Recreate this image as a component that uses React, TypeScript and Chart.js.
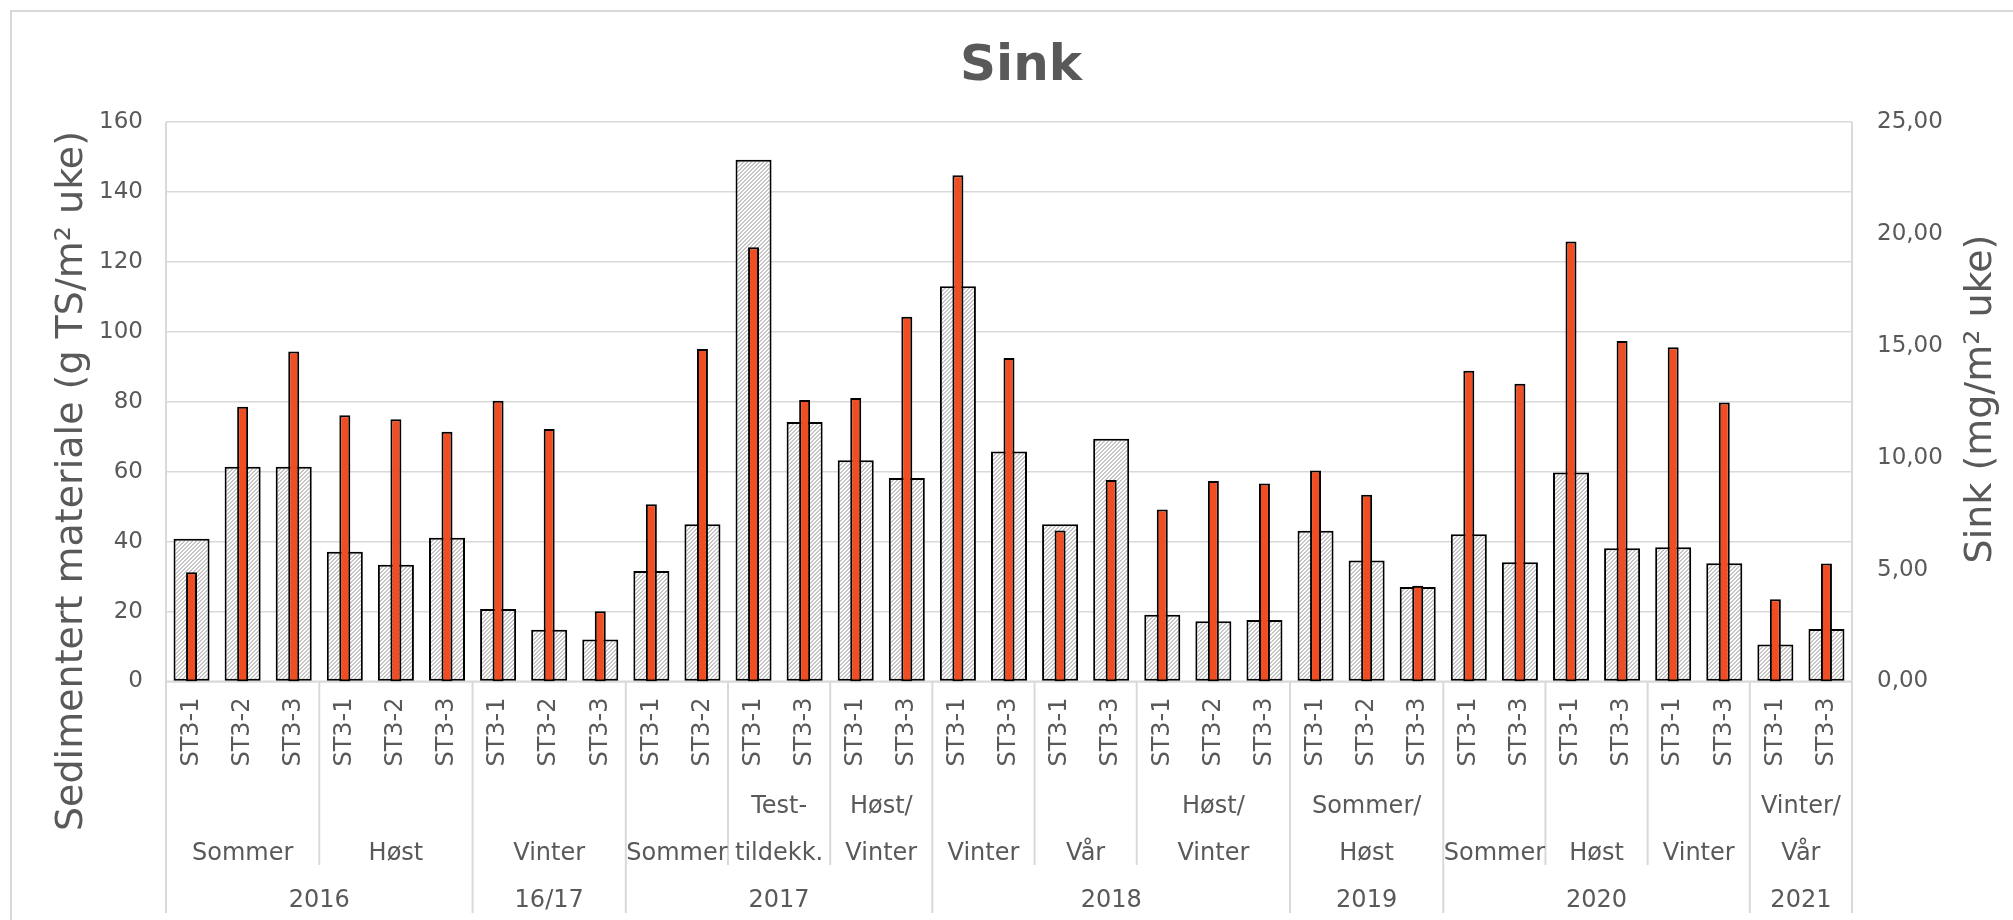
import { useEffect, useRef } from 'react';
import { Chart, registerables } from 'chart.js';

Chart.register(...registerables);

// Sampling stations, one bar pair per station and campaign
const stations = [
  'ST3-1', 'ST3-2', 'ST3-3',
  'ST3-1', 'ST3-2', 'ST3-3',
  'ST3-1', 'ST3-2', 'ST3-3',
  'ST3-1', 'ST3-2',
  'ST3-1', 'ST3-3',
  'ST3-1', 'ST3-3',
  'ST3-1', 'ST3-3',
  'ST3-1', 'ST3-3',
  'ST3-1', 'ST3-2', 'ST3-3',
  'ST3-1', 'ST3-2', 'ST3-3',
  'ST3-1', 'ST3-3',
  'ST3-1', 'ST3-3',
  'ST3-1', 'ST3-3',
  'ST3-1', 'ST3-3',
];

// Season row (two-line labels split on \n) and how many stations each covers
const seasons = [
  'Sommer', 'Høst', 'Vinter', 'Sommer', 'Test-\ntildekk.', 'Høst/\nVinter',
  'Vinter', 'Vår', 'Høst/\nVinter', 'Sommer/\nHøst', 'Sommer', 'Høst', 'Vinter', 'Vinter/\nVår',
];
const seasonSpans = [3, 3, 3, 2, 2, 2, 2, 2, 3, 3, 2, 2, 2, 2];

// Year row
const years = ['2016', '16/17', '2017', '2018', '2019', '2020', '2021'];
const yearSpans = [6, 3, 6, 7, 3, 6, 2];

// Sedimentert materiale (g TS/m² uke), left axis
const sediment = [
  40.8, 61.4, 61.4,
  37.1, 33.4, 41.1,
  20.7, 14.8, 12.0,
  31.6, 45.0,
  149.2, 74.2,
  63.3, 58.2,
  113.0, 65.8,
  45.0, 69.4,
  19.1, 17.2, 17.6,
  43.1, 34.6, 27.0,
  42.1, 34.1,
  59.8, 38.1,
  38.4, 33.8,
  10.6, 15.0,
];

// Sink (mg/m² uke), right axis
const zinc = [
  4.88, 12.28, 14.74,
  11.90, 11.72, 11.16,
  12.54, 11.28, 3.14,
  7.92, 14.86,
  19.40, 12.58,
  12.67, 16.30,
  22.62, 14.45,
  6.75, 9.00,
  7.69, 8.96, 8.85,
  9.43, 8.34, 4.28,
  13.89, 13.30,
  19.66, 15.22,
  14.93, 12.47,
  3.68, 5.27,
];

const leftTicks = { min: 0, max: 160, step: 20 };
const rightTicks = { min: 0, max: 25, step: 5 };

const FONT = '"DejaVu Sans", Verdana, sans-serif';
const TEXT = '#595959';
const LINE = '#d9d9d9';
const ORANGE = '#F04E22';

const W = 2013;
const H = 920;
const PLOT_LEFT = 166;
const PLOT_RIGHT = 1852;
const PLOT_TOP = 122;
const PLOT_BOTTOM = 681.5;
const SEASON_BOTTOM = 865;
const YEAR_BOTTOM = 913;

// Light upward-diagonal hatch used for the sediment bars
function makeHatch(): CanvasPattern | string {
  const c = document.createElement('canvas');
  c.width = 4;
  c.height = 4;
  const g = c.getContext('2d');
  if (!g) return '#e0e0e0';
  g.fillStyle = '#ffffff';
  g.fillRect(0, 0, 4, 4);
  g.fillStyle = '#c6c6c6';
  for (let y = 0; y < 4; y++) {
    for (let x = 0; x < 4; x++) {
      if ((x + y) % 4 < 2) g.fillRect(x, y, 1, 1);
    }
  }
  return g.createPattern(c, 'repeat') || '#e0e0e0';
}

const decorPlugin = {
  id: 'decor',
  beforeDraw(chart: any) {
    const { ctx } = chart;
    ctx.save();
    ctx.fillStyle = '#ffffff';
    ctx.fillRect(0, 0, chart.width, chart.height);
    // outer frame (left and top edges)
    ctx.strokeStyle = LINE;
    ctx.lineWidth = 2;
    ctx.beginPath();
    ctx.moveTo(11, chart.height);
    ctx.lineTo(11, 11);
    ctx.lineTo(chart.width, 11);
    ctx.stroke();
    // chart title
    ctx.fillStyle = TEXT;
    ctx.font = `bold 50px ${FONT}`;
    ctx.textAlign = 'center';
    ctx.textBaseline = 'alphabetic';
    ctx.fillText('Sink', 1021, 80);
    ctx.restore();
  },
  beforeDatasetsDraw(chart: any) {
    const { ctx, chartArea: a } = chart;
    const xs = chart.scales.x;
    const n = stations.length;
    const step = xs.getPixelForValue(1) - xs.getPixelForValue(0);
    const edge = (i: number) => (i >= n ? a.right : xs.getPixelForValue(i) - step / 2);
    const yearEnds = new Set<number>();
    let acc = 0;
    yearSpans.forEach((s) => {
      acc += s;
      yearEnds.add(acc);
    });

    ctx.save();
    ctx.strokeStyle = LINE;
    ctx.lineWidth = 2;
    const line = (x1: number, y1: number, x2: number, y2: number) => {
      ctx.beginPath();
      ctx.moveTo(x1, y1);
      ctx.lineTo(x2, y2);
      ctx.stroke();
    };
    line(a.left, a.bottom, a.right, a.bottom);
    line(a.left, a.top, a.left, YEAR_BOTTOM);
    line(a.right, a.top, a.right, YEAR_BOTTOM);

    acc = 0;
    seasonSpans.forEach((s, k) => {
      acc += s;
      if (k === seasonSpans.length - 1) return;
      const x = edge(acc);
      line(x, a.bottom, x, yearEnds.has(acc) ? YEAR_BOTTOM : SEASON_BOTTOM);
    });
    ctx.restore();
  },
  afterDraw(chart: any) {
    const { ctx } = chart;
    const xs = chart.scales.x;
    const n = stations.length;
    const step = xs.getPixelForValue(1) - xs.getPixelForValue(0);
    const edge = (i: number) => (i >= n ? chart.chartArea.right : xs.getPixelForValue(i) - step / 2);

    ctx.save();
    ctx.fillStyle = TEXT;
    ctx.textAlign = 'center';
    ctx.textBaseline = 'alphabetic';
    ctx.font = `24px ${FONT}`;

    // season row
    let start = 0;
    seasons.forEach((label, k) => {
      const end = start + seasonSpans[k];
      const cx = (edge(start) + edge(end)) / 2;
      const parts = label.split('\n');
      if (parts.length === 2) {
        ctx.fillText(parts[0], cx, 813);
        ctx.fillText(parts[1], cx, 860);
      } else {
        ctx.fillText(parts[0], cx, 860);
      }
      start = end;
    });

    // year row
    start = 0;
    years.forEach((label, k) => {
      const end = start + yearSpans[k];
      const cx = (edge(start) + edge(end)) / 2;
      ctx.fillText(label, cx, 907);
      start = end;
    });

    // axis titles, both reading bottom to top
    ctx.font = `38px ${FONT}`;
    ctx.save();
    ctx.translate(82, 481);
    ctx.rotate(-Math.PI / 2);
    ctx.fillText('Sedimentert materiale (g TS/m\u00B2 uke)', 0, 0);
    ctx.restore();

    ctx.save();
    ctx.translate(1991, 399);
    ctx.rotate(-Math.PI / 2);
    ctx.fillText('Sink (mg/m\u00B2 uke)', 0, 0);
    ctx.restore();

    ctx.restore();
  },
};

export default function App() {
  const canvasRef = useRef<HTMLCanvasElement>(null);

  useEffect(() => {
    const canvas = canvasRef.current;
    if (!canvas) return;
    const hatch = makeHatch();

    const chart = new Chart(canvas, {
      type: 'bar',
      data: {
        labels: stations,
        datasets: [
          {
            label: 'Sink',
            data: zinc,
            yAxisID: 'y1',
            backgroundColor: ORANGE,
            borderColor: '#000000',
            borderWidth: 2,
            borderSkipped: false,
            grouped: false,
            barPercentage: 0.215,
            categoryPercentage: 1,
            order: 0,
          },
          {
            label: 'Sedimentert materiale',
            data: sediment,
            yAxisID: 'y',
            backgroundColor: hatch as any,
            borderColor: '#000000',
            borderWidth: 2,
            borderSkipped: false,
            grouped: false,
            barPercentage: 0.705,
            categoryPercentage: 1,
            order: 1,
          },
        ],
      },
      options: {
        responsive: false,
        animation: false,
        devicePixelRatio: 1,
        layout: { padding: { top: PLOT_TOP, left: 0, right: 0, bottom: 0 } },
        plugins: {
          legend: { display: false },
          tooltip: { enabled: false },
          title: { display: false },
        },
        scales: {
          x: {
            type: 'category',
            offset: true,
            grid: { display: false, drawTicks: false },
            border: { display: false },
            ticks: {
              autoSkip: false,
              maxRotation: 90,
              minRotation: 90,
              padding: 16,
              color: TEXT,
              font: { family: FONT, size: 24 },
            },
            afterFit: (s: any) => {
              s.height = H - PLOT_BOTTOM;
            },
          },
          y: {
            position: 'left',
            min: leftTicks.min,
            max: leftTicks.max,
            grid: { color: LINE, lineWidth: 1.5, drawTicks: false },
            border: { display: false },
            ticks: {
              stepSize: leftTicks.step,
              padding: 23,
              color: TEXT,
              font: { family: FONT, size: 23 },
            },
            afterFit: (s: any) => {
              s.width = PLOT_LEFT;
            },
          },
          y1: {
            position: 'right',
            min: rightTicks.min,
            max: rightTicks.max,
            grid: { display: false, drawTicks: false },
            border: { display: false },
            ticks: {
              stepSize: rightTicks.step,
              padding: 25,
              color: TEXT,
              font: { family: FONT, size: 23 },
              callback: (v: any) => Number(v).toFixed(2).replace('.', ','),
            },
            afterFit: (s: any) => {
              s.width = W - PLOT_RIGHT;
            },
          },
        },
      } as any,
      plugins: [decorPlugin],
    });

    return () => chart.destroy();
  }, []);

  return (
    <div style={{ position: 'absolute', left: 0, top: 0, width: W, height: H, background: '#ffffff' }}>
      <canvas ref={canvasRef} width={W} height={H} style={{ display: 'block' }} />
    </div>
  );
}
